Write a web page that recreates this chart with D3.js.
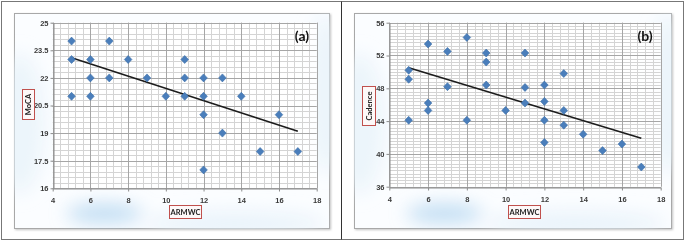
<!DOCTYPE html>
<html>
<head>
<meta charset="utf-8">
<script src="https://cdn.jsdelivr.net/npm/d3@7"></script>
<style>
  body { margin: 0; background: #fff; }
  svg { display: block; font-family: Lato, "Open Sans", sans-serif; }
</style>
</head>
<body>
<div id="chart"></div>
<script>
// ---- data ----
const xTicks = [4, 6, 8, 10, 12, 14, 16, 18];

// (a) MoCA vs ARMWC
const mocaX = [5, 5, 5, 6, 6, 6, 7, 7, 8, 9, 10, 11, 11, 11, 12, 12, 12, 12, 13, 13, 14, 15, 16, 17];
const mocaY = [24, 23, 21, 23, 22, 21, 24, 22, 23, 22, 21, 23, 22, 21, 22, 21, 20, 17, 22, 19, 21, 18, 20, 18];
const mocaTicks = [16, 17.5, 19, 20.5, 22, 23.5, 25];
const mocaTrendX = [5, 17];
const mocaTrendY = [23.1, 19.1];

// (b) Cadence vs ARMWC
const cadX = [5, 5, 5, 6, 6, 6, 7, 7, 8, 8, 9, 9, 9, 10, 11, 11, 11, 12, 12, 12, 12, 13, 13, 13, 14, 15, 16, 17];
const cadY = [50.2, 49.1, 44.1, 53.4, 46.2, 45.3, 52.5, 48.2, 54.2, 44.1, 52.3, 51.2, 48.4, 45.3, 52.3, 48.1, 46.2,
              48.4, 46.4, 44.1, 41.4, 49.8, 45.3, 43.5, 42.4, 40.4, 41.2, 38.4];
const cadTicks = [36, 40, 44, 48, 52, 56];
const cadTrendX = [5, 17];
const cadTrendY = [50.5, 41.9];

const W = 685, H = 241;

const svg = d3.select("#chart").append("svg")
    .attr("width", W)
    .attr("height", H);

const defs = svg.append("defs");
defs.append("filter").attr("id", "blur")
    .attr("x", "-50%").attr("y", "-50%").attr("width", "200%").attr("height", "200%")
    .append("feGaussianBlur").attr("stdDeviation", 9);
defs.append("filter").attr("id", "shadow")
    .append("feDropShadow")
    .attr("dx", 1).attr("dy", 1).attr("stdDeviation", 1)
    .attr("flood-color", "#999").attr("flood-opacity", 0.6);

// outer frame + separator
svg.append("rect")
    .attr("x", 1.5).attr("y", 1.5)
    .attr("width", W - 3).attr("height", H - 3)
    .attr("fill", "#fff")
    .attr("stroke", "#777");
svg.append("line")
    .attr("x1", 341.5).attr("x2", 341.5)
    .attr("y1", 1.5).attr("y2", H - 1.5)
    .attr("stroke", "#333");

function drawPanel(cfg) {
    const g = svg.append("g");
    const box = cfg.box;

    // chart area with faint blue wash
    const clipId = "clip" + cfg.tag;
    defs.append("clipPath").attr("id", clipId)
        .append("rect").attr("x", box.x).attr("y", box.y).attr("width", box.w).attr("height", box.h);

    g.append("rect")
        .attr("x", box.x).attr("y", box.y)
        .attr("width", box.w).attr("height", box.h)
        .attr("fill", "#fbfdff")
        .attr("stroke", "#a8a8a8")
        .attr("filter", "url(#shadow)");

    const wash = g.append("g").attr("clip-path", `url(#${clipId})`).attr("filter", "url(#blur)");
    wash.append("ellipse")
        .attr("cx", box.x + 5).attr("cy", box.y + 110).attr("rx", 25).attr("ry", 70)
        .attr("fill", "#e3f0f9").attr("opacity", 0.6);
    wash.append("ellipse")
        .attr("cx", box.x + box.w - 3).attr("cy", box.y + 80).attr("rx", 20).attr("ry", 80)
        .attr("fill", "#e3f0f9").attr("opacity", 0.6);
    wash.append("ellipse")
        .attr("cx", box.x + 90).attr("cy", box.y + 200).attr("rx", 38).attr("ry", 10)
        .attr("fill", "#a9d0ee").attr("opacity", 0.7);
    wash.append("ellipse")
        .attr("cx", box.x + 220).attr("cy", box.y + 210).attr("rx", 90).attr("ry", 12)
        .attr("fill", "#e3eff9").attr("opacity", 0.7);

    const x = d3.scaleLinear().domain([4, 18]).range([cfg.plot.left, cfg.plot.right]);
    const y = d3.scaleLinear().domain(d3.extent(cfg.yTicks)).range([cfg.plot.bottom, cfg.plot.top]);

    // plot area
    g.append("rect")
        .attr("x", x(4)).attr("y", y.range()[1])
        .attr("width", x(18) - x(4)).attr("height", y.range()[0] - y.range()[1])
        .attr("fill", "#fff").attr("opacity", 0.85);

    // minor grid
    const xMinor = d3.range(4, 18.001, 0.4);
    const yDom = y.domain();
    const yMinor = d3.range(yDom[0], yDom[1] + 0.001, cfg.yMinorStep);

    g.append("g").selectAll("line").data(xMinor).join("line")
        .attr("x1", d => Math.round(x(d)) + 0.5).attr("x2", d => Math.round(x(d)) + 0.5)
        .attr("y1", y.range()[0]).attr("y2", y.range()[1])
        .attr("stroke", "#d4d4d4").attr("stroke-width", 1);
    g.append("g").selectAll("line").data(yMinor).join("line")
        .attr("y1", d => Math.round(y(d)) + 0.5).attr("y2", d => Math.round(y(d)) + 0.5)
        .attr("x1", x(4)).attr("x2", x(18))
        .attr("stroke", "#d4d4d4").attr("stroke-width", 1);

    // major grid
    g.append("g").selectAll("line").data(xTicks).join("line")
        .attr("x1", d => Math.round(x(d)) + 0.5).attr("x2", d => Math.round(x(d)) + 0.5)
        .attr("y1", y.range()[0]).attr("y2", y.range()[1])
        .attr("stroke", "#a6a6a6");
    g.append("g").selectAll("line").data(cfg.yTicks).join("line")
        .attr("y1", d => Math.round(y(d)) + 0.5).attr("y2", d => Math.round(y(d)) + 0.5)
        .attr("x1", x(4)).attr("x2", x(18))
        .attr("stroke", "#a6a6a6");

    // axes
    const xAxis = g.append("g")
        .attr("transform", `translate(0,${Math.round(y.range()[0]) + 0.5})`)
        .call(d3.axisBottom(x).tickValues(xTicks).tickSize(3).tickSizeOuter(0).tickFormat(d => d));
    const yAxis = g.append("g")
        .attr("transform", `translate(${Math.round(x(4)) + 0.5},0)`)
        .call(d3.axisLeft(y).tickValues(cfg.yTicks).tickSize(3).tickSizeOuter(0).tickFormat(d => d));

    [xAxis, yAxis].forEach(a => {
        a.select(".domain").attr("stroke", "#8c8c8c");
        a.selectAll(".tick line").attr("stroke", "#8c8c8c");
        a.selectAll("text")
            .attr("font-size", "7.5px")
            .attr("font-weight", "bold")
            .attr("fill", "#3a3a3a");
    });
    xAxis.selectAll("text").attr("dy", "1.1em");
    yAxis.selectAll("text").attr("x", -5);

    // trendline
    const trend = cfg.trendX.map((d, i) => [d, cfg.trendY[i]]);
    g.append("path")
        .datum(trend)
        .attr("d", d3.line().x(d => x(d[0])).y(d => y(d[1])))
        .attr("fill", "none")
        .attr("stroke", "#1c1c1c")
        .attr("stroke-width", 1.6);

    // markers
    const pts = cfg.xs.map((d, i) => ({ x: d, y: cfg.ys[i] }));
    g.append("g").selectAll("path").data(pts).join("path")
        .attr("transform", d => `translate(${x(d.x)},${y(d.y)})`)
        .attr("d", "M0,-4L3.8,0L0,4L-3.8,0Z")
        .attr("fill", "#4a7ebb")
        .attr("stroke", "#3d6ea8")
        .attr("stroke-width", 0.6);

    // panel tag
    g.append("text")
        .attr("x", cfg.tagPos[0]).attr("y", cfg.tagPos[1])
        .attr("text-anchor", "middle")
        .attr("font-size", "14px")
        .attr("font-weight", "bold")
        .attr("fill", "#111")
        .text(`(${cfg.tag})`);

    // axis title boxes
    const yb = cfg.yTitleBox;
    g.append("rect")
        .attr("x", yb.x + 0.5).attr("y", yb.y + 0.5).attr("width", yb.w).attr("height", yb.h)
        .attr("fill", "#fdf8f8").attr("stroke", "#c0504d").attr("stroke-width", 1);
    g.append("text")
        .attr("transform", `translate(${yb.x + yb.w / 2 + 3.3},${yb.y + yb.h / 2 + 0.5}) rotate(-90)`)
        .attr("text-anchor", "middle")
        .attr("font-size", "7.5px")
        .attr("font-weight", "bold")
        .attr("fill", "#222")
        .text(cfg.yTitle);

    const xb = cfg.xTitleBox;
    g.append("rect")
        .attr("x", xb.x + 0.5).attr("y", xb.y + 0.5).attr("width", xb.w).attr("height", xb.h)
        .attr("fill", "#fdf8f8").attr("stroke", "#c0504d").attr("stroke-width", 1);
    g.append("text")
        .attr("x", xb.x + xb.w / 2 + 0.5).attr("y", xb.y + xb.h / 2 + 3.3)
        .attr("text-anchor", "middle")
        .attr("font-size", "7.5px")
        .attr("font-weight", "bold")
        .attr("fill", "#222")
        .text("ARMWC");
}

drawPanel({
    tag: "a",
    box: { x: 14.5, y: 13.5, w: 315, h: 215 },
    plot: { left: 52.7, right: 316.7, top: 22.7, bottom: 188.3 },
    xs: mocaX, ys: mocaY,
    yTicks: mocaTicks, yMinorStep: 0.3,
    trendX: mocaTrendX, trendY: mocaTrendY,
    tagPos: [302, 41],
    yTitle: "MoCA",
    yTitleBox: { x: 22, y: 89, w: 12, h: 30 },
    xTitleBox: { x: 169, y: 205, w: 32, h: 13 }
});

drawPanel({
    tag: "b",
    box: { x: 354.5, y: 13.5, w: 317, h: 215 },
    plot: { left: 389.3, right: 660.7, top: 22.7, bottom: 186.7 },
    xs: cadX, ys: cadY,
    yTicks: cadTicks, yMinorStep: 0.4,
    trendX: cadTrendX, trendY: cadTrendY,
    tagPos: [645, 41],
    yTitle: "Cadence",
    yTitleBox: { x: 362, y: 86, w: 13, h: 39 },
    xTitleBox: { x: 508, y: 205, w: 32, h: 13 }
});
</script>
</body>
</html>
